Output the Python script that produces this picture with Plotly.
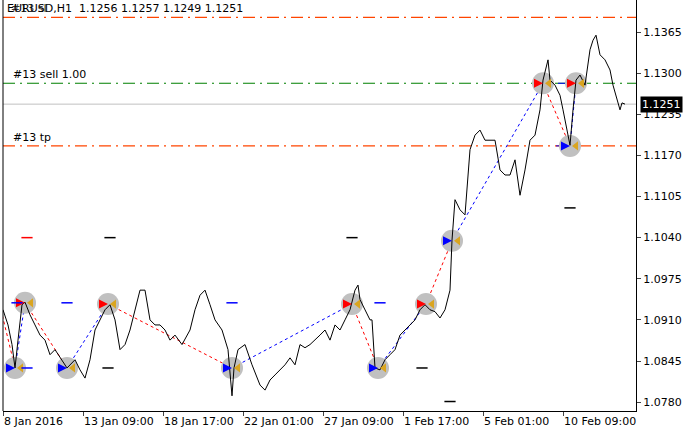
import plotly.graph_objects as go

# close prices (bar index -> price)
bars = [0, 5, 9, 12, 15, 19, 22, 27, 32, 37, 42, 47, 52, 59, 64, 72, 77, 82, 87, 92, 97, 102,
        107, 112, 117, 122, 127, 132, 137, 142, 147, 152, 157, 162, 167, 172, 179, 187, 192, 197,
        202, 207, 212, 219, 225, 229, 231, 235, 242, 249, 257, 262, 267, 272, 277, 282, 287, 292,
        297, 302, 307, 312, 317, 322, 327, 332, 337, 342, 347, 352, 355, 357, 362, 367, 369, 372,
        377, 382, 387, 392, 397, 402, 407, 412, 417, 422, 427, 432, 437, 442, 447, 449, 452, 457,
        462, 467, 472, 477, 482, 487, 492, 497, 502, 507, 512, 517, 522, 527, 532, 537, 540, 545,
        547, 552, 557, 560, 564, 567, 570, 573, 577, 582, 587, 590, 593, 597, 602, 607, 610, 614,
        617, 619, 622]
closes = [1.0926, 1.0902, 1.0871, 1.0834, 1.0878, 1.0934, 1.0938, 1.0918, 1.0902, 1.0886,
          1.0878, 1.0855, 1.0863, 1.0847, 1.0834, 1.0847, 1.0831, 1.0818, 1.0847, 1.0894,
          1.0910, 1.0926, 1.0934, 1.0910, 1.0863, 1.0871, 1.0894, 1.0926, 1.0957, 1.0957,
          1.0910, 1.0902, 1.0902, 1.0894, 1.0878, 1.0886, 1.0871, 1.0894, 1.0926, 1.0949,
          1.0957, 1.0934, 1.0910, 1.0894, 1.0863, 1.0790, 1.0834, 1.0863, 1.0871, 1.0839,
          1.0807, 1.0799, 1.0815, 1.0823, 1.0831, 1.0839, 1.0850, 1.0839, 1.0871, 1.0866,
          1.0871, 1.0878, 1.0886, 1.0894, 1.0878, 1.0902, 1.0894, 1.0910, 1.0926, 1.0957,
          1.0965, 1.0942, 1.0926, 1.0910, 1.0910, 1.0834, 1.0831, 1.0847, 1.0855, 1.0863,
          1.0886, 1.0894, 1.0902, 1.0910, 1.0926, 1.0934, 1.0926, 1.0923, 1.0913, 1.0926,
          1.0957, 1.1036, 1.1100, 1.1084, 1.1076, 1.1179, 1.1202, 1.1210, 1.1194, 1.1194,
          1.1194, 1.1147, 1.1139, 1.1139, 1.1163, 1.1107, 1.1147, 1.1194, 1.1202, 1.1242,
          1.1289, 1.1321, 1.1289, 1.1281, 1.1265, 1.1242, 1.1210, 1.1186, 1.1242, 1.1289,
          1.1297, 1.1281, 1.1337, 1.1352, 1.1360, 1.1329, 1.1321, 1.1305, 1.1281, 1.1258,
          1.1242, 1.1253, 1.1251]

# trades: (bar, price, side)
trade_bars = [-2, 12, 22, 64, 105, 229, 349, 375, 423, 449, 540, 567, 573]
trade_prices = [1.0926, 1.0834, 1.0937, 1.0834, 1.0935, 1.0834, 1.0935, 1.0834, 1.0935, 1.1035,
                1.1284, 1.1185, 1.1284]
trade_sides = ["sell", "buy", "sell", "buy", "sell", "buy", "sell", "buy", "sell", "buy",
               "sell", "buy", "sell"]

dash_bars = [14, 24, 64, 105, 107, 229, 349, 377, 419, 447, 567]
dash_prices = [1.0937, 1.0834, 1.0937, 1.0834, 1.1040, 1.0937, 1.1040, 1.0937, 1.0834, 1.0781, 1.1087]
dash_colors = ["blue", "blue", "blue", "black", "black", "blue", "black", "blue", "black", "black", "black"]
red_dash_bars = [24]
red_dash_prices = [1.1040]

sl_level, open_level, tp_level, last_price = 1.1388, 1.1284, 1.1185, 1.1251
price_ticks = [1.1365, 1.1300, 1.1235, 1.1170, 1.1105, 1.1040, 1.0975, 1.0910, 1.0845, 1.0780]
time_ticks = [0, 80, 160, 240, 320, 400, 480, 560]
time_labels = ["8 Jan 2016", "13 Jan 09:00", "18 Jan 17:00", "22 Jan 01:00", "27 Jan 09:00",
               "1 Feb 17:00", "5 Feb 01:00", "10 Feb 09:00"]

fig = go.Figure()
XMAX = 633
# level lines
for lvl, col in [(sl_level, "#ff4500"), (open_level, "#008000"), (tp_level, "#ff4500")]:
    fig.add_trace(go.Scatter(x=[0, XMAX], y=[lvl, lvl], mode="lines",
                             line=dict(color=col, width=1.2, dash="12px,5px,2px,5px"), hoverinfo="skip"))
fig.add_trace(go.Scatter(x=[0, XMAX], y=[last_price, last_price], mode="lines",
                         line=dict(color="#c0c0c0", width=1), hoverinfo="skip"))

# trade connection lines
for i in range(len(trade_bars) - 1):
    col = "blue" if trade_sides[i] == "buy" else "red"
    fig.add_trace(go.Scatter(x=trade_bars[i:i + 2], y=trade_prices[i:i + 2], mode="lines",
                             line=dict(color=col, width=1, dash="dot"), hoverinfo="skip"))
fig.add_trace(go.Scatter(x=[537, 567], y=[open_level, open_level], mode="lines",
                         line=dict(color="blue", width=1, dash="dash")))
fig.add_trace(go.Scatter(x=[553, 567], y=[tp_level, tp_level], mode="lines",
                         line=dict(color="blue", width=1)))

# grey halos
fig.add_trace(go.Scatter(x=trade_bars[1:], y=trade_prices[1:], mode="markers",
                         marker=dict(size=22, color="#c0c0c0"), hoverinfo="skip"))

fig.add_trace(go.Scatter(x=bars, y=closes, mode="lines", line=dict(color="black", width=1)))

for side, col in [("buy", "blue"), ("sell", "red")]:
    xs = [b for b, s in zip(trade_bars[1:], trade_sides[1:]) if s == side]
    ys = [p for p, s in zip(trade_prices[1:], trade_sides[1:]) if s == side]
    fig.add_trace(go.Scatter(x=xs, y=ys, mode="markers",
                             marker=dict(symbol="arrow-right", size=9, color=col)))
    fig.add_trace(go.Scatter(x=[b + 6 for b in xs], y=ys, mode="markers",
                             marker=dict(symbol="triangle-left", size=8, color="#daa520")))

fig.add_trace(go.Scatter(x=dash_bars, y=dash_prices, mode="markers",
                         marker=dict(symbol="line-ew", size=8, line=dict(width=1.5, color=dash_colors))))
fig.add_trace(go.Scatter(x=red_dash_bars, y=red_dash_prices, mode="markers",
                         marker=dict(symbol="line-ew", size=8, line=dict(width=1.5, color="red"))))

fig.update_layout(
    width=691, height=438, margin=dict(l=3, r=55, t=0, b=27, autoexpand=False),
    plot_bgcolor="white", paper_bgcolor="white", showlegend=False,
    font=dict(family="DejaVu Sans", size=11, color="black"),
    xaxis=dict(range=[0, XMAX], tickvals=time_ticks, ticktext=time_labels, showgrid=False,
               zeroline=False, ticks="outside", ticklen=4, showline=True, linecolor="black",
               tickangle=0, automargin=False, ticklabelposition="outside right"),
    yaxis=dict(range=[1.0766, 1.14156], side="right", tickvals=price_ticks,
               ticktext=[f"{v:.4f}" for v in price_ticks], showgrid=False, zeroline=False,
               ticks="outside", ticklen=4, showline=True, linecolor="black", automargin=False),
    shapes=[dict(type="line", xref="paper", yref="paper", x0=0, x1=0, y0=0, y1=1,
                 line=dict(color="black", width=1))],
    annotations=[
        dict(xref="paper", yref="paper", x=0.01, y=1.0, text="#13 sl", showarrow=False,
             xanchor="left", yanchor="top", font=dict(color="#333")),
        dict(xref="paper", yref="paper", x=0.003, y=1.0, text="EURUSD,H1  1.1256 1.1257 1.1249 1.1251",
             showarrow=False, xanchor="left", yanchor="top"),
        dict(x=8, y=open_level, text="#13 sell 1.00", showarrow=False, xanchor="left", yanchor="bottom"),
        dict(x=8, y=tp_level, text="#13 tp", showarrow=False, xanchor="left", yanchor="bottom"),
        dict(xref="paper", x=1.0, y=last_price, text="1.1251", showarrow=False, xanchor="left",
             bgcolor="black", font=dict(color="white"), borderpad=1, xshift=4),
    ],
)
fig.write_html("out.html", config={"displayModeBar": False},
               post_script="document.body.style.margin='0';")
